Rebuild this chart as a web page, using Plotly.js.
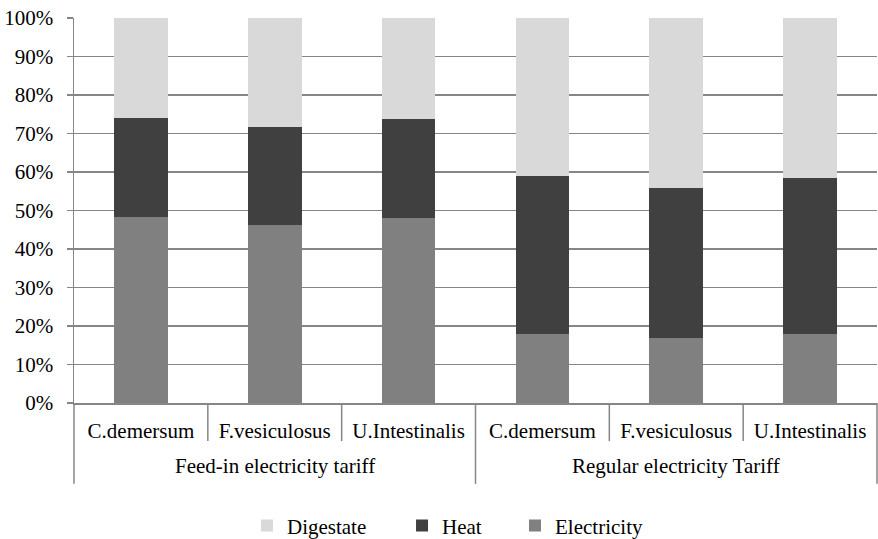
<!DOCTYPE html>
<html>
<head>
<meta charset="utf-8">
<script src="https://cdn.plot.ly/plotly-3.0.1.min.js"></script>
<style>html,body{margin:0;padding:0;background:#fff;}#chart{width:878px;height:539px;}</style>
</head>
<body>
<div id="chart"></div>
<script>
const tariffs = ["Feed-in electricity tariff","Feed-in electricity tariff","Feed-in electricity tariff","Regular electricity Tariff","Regular electricity Tariff","Regular electricity Tariff"];
const species = ["C.demersum","F.vesiculosus","U.Intestinalis","C.demersum","F.vesiculosus","U.Intestinalis"];
const electricity = [0.483, 0.463, 0.481, 0.180, 0.170, 0.180];
const heat = [0.258, 0.253, 0.257, 0.410, 0.389, 0.405];
const digestate = [0.259, 0.284, 0.262, 0.410, 0.441, 0.415];

const FAM = "Liberation Serif, Times New Roman, serif";
const font = {family: FAM, size: 21, color: "#000"};
const GRID = "#868686";
const idx = species.map((_, i) => i);

const traces = [
  {type: "bar", name: "Electricity", x: idx, y: electricity, marker: {color: "#808080"}, legend: "legend3"},
  {type: "bar", name: "Heat", x: idx, y: heat, marker: {color: "#404040"}, legend: "legend2"},
  {type: "bar", name: "Digestate", x: idx, y: digestate, marker: {color: "#d9d9d9"}, legend: "legend"}
];

// dividers between categories and groups
const shapes = [];
const innerLen = -0.099, outerLen = -0.21;
function vline(xv, len, xref) {
  shapes.push({type: "line", xref: xref || "x", yref: "paper", x0: xv, x1: xv, y0: 0, y1: len,
    line: {color: GRID, width: 1.5}});
}
vline(0, outerLen, "paper");
vline(1, outerLen, "paper");
for (let i = 1; i < species.length; i++) {
  vline(i - 0.5, tariffs[i] === tariffs[i - 1] ? innerLen : outerLen);
}
// group labels
const annotations = [];
const groups = [...new Set(tariffs)];
groups.forEach(g => {
  const members = idx.filter(i => tariffs[i] === g);
  const center = (members[0] + members[members.length - 1]) / 2;
  annotations.push({xref: "x", yref: "paper", x: center, y: -0.164, yanchor: "middle", xanchor: "center",
    text: g, showarrow: false, font: font});
});

function leg(xpos) {
  return {orientation: "h", x: xpos, xanchor: "left", y: -0.319, yanchor: "middle",
    font: font, bgcolor: "rgba(0,0,0,0)"};
}

const layout = {
  width: 878, height: 539,
  margin: {l: 74, r: 1, t: 18, b: 136, autoexpand: false},
  barmode: "stack",
  bargap: 0.6,
  paper_bgcolor: "#fff", plot_bgcolor: "#fff",
  font: font,
  showlegend: true,
  legend: leg(0.2154),
  legend2: leg(0.4085),
  legend3: leg(0.5492),
  xaxis: {
    type: "linear", range: [-0.5, species.length - 0.5],
    tickvals: idx, ticktext: species, ticks: "",
    showgrid: false, zeroline: false,
    showline: true, linecolor: GRID, linewidth: 1.5,
    ticklabelstandoff: 8,
    tickfont: font, automargin: false
  },
  yaxis: {
    range: [0, 1], dtick: 0.1, tickformat: ".0%",
    showgrid: true, gridcolor: GRID, gridwidth: 1.5,
    showline: true, linecolor: GRID, linewidth: 1.5,
    ticks: "outside", ticklen: 6, tickcolor: GRID, tickwidth: 1.5,
    ticklabelstandoff: 9,
    zeroline: false, automargin: false,
    tickfont: font
  },
  shapes: shapes,
  annotations: annotations
};
Plotly.newPlot("chart", traces, layout, {staticPlot: true});
</script>
</body>
</html>
